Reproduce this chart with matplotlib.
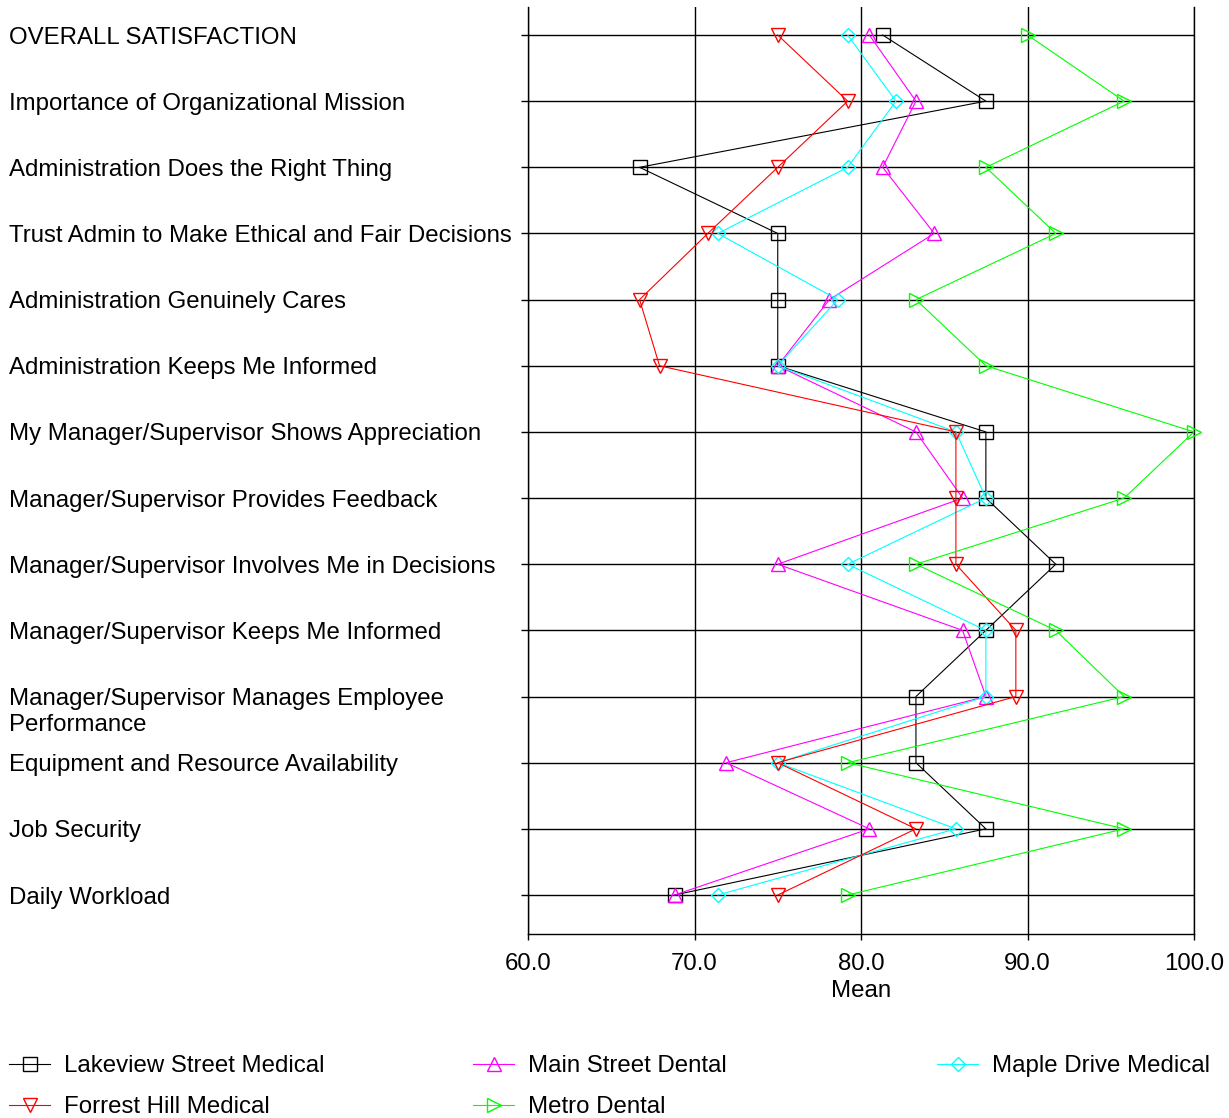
import matplotlib
matplotlib.use('Agg')
import matplotlib.pyplot as plt
import matplotlib.transforms as mtransforms
import numpy as np

categories = [
    "OVERALL SATISFACTION",
    "Importance of Organizational Mission",
    "Administration Does the Right Thing",
    "Trust Admin to Make Ethical and Fair Decisions",
    "Administration Genuinely Cares",
    "Administration Keeps Me Informed",
    "My Manager/Supervisor Shows Appreciation",
    "Manager/Supervisor Provides Feedback",
    "Manager/Supervisor Involves Me in Decisions",
    "Manager/Supervisor Keeps Me Informed",
    "Manager/Supervisor Manages Employee\nPerformance",
    "Equipment and Resource Availability",
    "Job Security",
    "Daily Workload",
]

lakeview = [81.3, 87.5, 66.7, 75.0, 75.0, 75.0, 87.5, 87.5, 91.7, 87.5, 83.3, 83.3, 87.5, 68.8]
main_street = [80.5, 83.3, 81.3, 84.4, 78.1, 75.0, 83.3, 86.1, 75.0, 86.1, 87.5, 71.9, 80.5, 68.8]
maple_drive = [79.2, 82.1, 79.2, 71.4, 78.6, 75.0, 85.7, 87.5, 79.2, 87.5, 87.5, 75.0, 85.7, 71.4]
forrest_hill = [75.0, 79.2, 75.0, 70.8, 66.7, 67.9, 85.7, 85.7, 85.7, 89.3, 89.3, 75.0, 83.3, 75.0]
metro_dental = [90.0, 95.8, 87.5, 91.7, 83.3, 87.5, 100.0, 95.8, 83.3, 91.7, 95.8, 79.2, 95.8, 79.2]

series_names = ["Lakeview Street Medical", "Main Street Dental", "Maple Drive Medical",
                "Forrest Hill Medical", "Metro Dental"]
series_values = [lakeview, main_street, maple_drive, forrest_hill, metro_dental]
series_colors = ["#000000", "#FF00FF", "#00FFFF", "#FF0000", "#00FF00"]
series_markers = ["s", "^", "D", "v", ">"]
series_ms = [10, 10, 6.9, 10, 10]

xticks = [60, 70, 80, 90, 100]
xlabel = "Mean"

plt.rcParams['font.family'] = ['Liberation Sans', 'DejaVu Sans']
FS = 17.25
FSPX = FS * 100 / 72.0

W, H = 1229, 1118
fig = plt.figure(figsize=(W / 100, H / 100), dpi=100)
ax = fig.add_axes([528 / W, 1 - 934 / H, (1194 - 528) / W, (934 - 7) / H])

n = len(categories)
y = np.arange(n)
step = 860 / 13.0
ax.set_xlim(60, 100)
ax.set_ylim(13 + 39 / step, -28 / step)

handles = {}
for name, vals, col, mk, ms in zip(series_names, series_values, series_colors,
                                   series_markers, series_ms):
    ln, = ax.plot(vals, y, color=col, lw=0.8, marker=mk, ms=ms, mfc='none',
                  mec=col, mew=1.0, label=name, zorder=3, clip_on=False)
    handles[name] = ln

ax.set_xticks(xticks)
ax.set_xticklabels([f"{v:.1f}" for v in xticks], fontsize=FS)
ax.set_yticks(y)
ax.set_yticklabels([])
ax.grid(True, color='black', lw=1.0)
ax.set_axisbelow(True)
ax.tick_params(axis='y', length=7 * 0.72, width=1.0, color='black')
ax.tick_params(axis='x', length=6 * 0.72, width=1.0, color='black', pad=9)
ax.set_xlabel(xlabel, fontsize=FS, labelpad=4)
ax.spines['top'].set_visible(False)
for s in ['left', 'bottom', 'right']:
    ax.spines[s].set_linewidth(1.0)
    ax.spines[s].set_color('black')

trans = mtransforms.blended_transform_factory(fig.transFigure, ax.transData) + \
    mtransforms.ScaledTranslation(0, 8.5 / 100, fig.dpi_scale_trans)
for yi, cat in zip(y, categories):
    ax.text(9 / W, yi, cat, transform=trans, ha='left', va='top', fontsize=FS,
            linespacing=1.24, clip_on=False)

legend_cols = [(9, ["Lakeview Street Medical", "Forrest Hill Medical"]),
               (473, ["Main Street Dental", "Metro Dental"]),
               (937, ["Maple Drive Medical"])]
for x0, names in legend_cols:
    fig.legend([handles[nm] for nm in names], names, loc='upper left',
               bbox_to_anchor=(x0 / W, 1 - 1055 / H), frameon=False, fontsize=FS,
               handlelength=41 / FSPX, handletextpad=14 / FSPX, labelspacing=0.80,
               borderpad=0, borderaxespad=0, numpoints=1)

fig.savefig("out.png", dpi=100)
